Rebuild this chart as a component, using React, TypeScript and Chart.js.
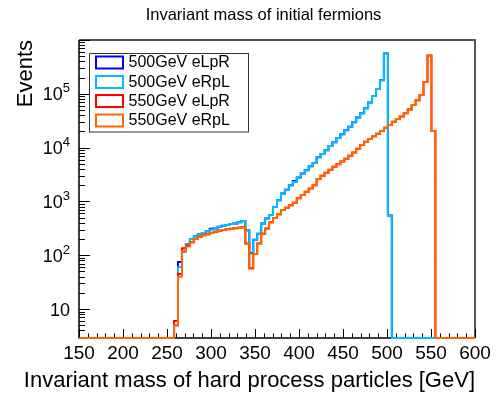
import React, { useEffect, useRef } from "react";
import { Chart, registerables } from "chart.js";
Chart.register(...registerables);

// ---- axis structure ----
const X_MIN = 150;
const X_MAX = 600;
const BIN_WIDTH = 4.5;
const Y_MIN = 2.9;
const Y_MAX = 1.0e6;

const xTickValues = [150, 200, 250, 300, 350, 400, 450, 500, 550, 600];
const xTickLabels = ["150", "200", "250", "300", "350", "400", "450", "500", "550", "600"];
const yTickExponents = [1, 2, 3, 4, 5];

const chartTitle = "Invariant mass of initial fermions";
const xTitle = "Invariant mass of hard process particles [GeV]";
const yTitle = "Events";

const seriesNames = ["500GeV eLpR", "500GeV eRpL", "550GeV eLpR", "550GeV eRpL"];
const seriesColors = ["#0000ff", "#00bfff", "#ff0000", "#ff6600"];

// ---- bin contents (100 bins of 4.5 GeV from 150 to 600) ----
const events500eLpR = [
  0, 0, 0, 0, 0, 0, 0, 0, 0, 0, 0, 0, 0, 0, 0, 0, 0, 0, 0, 0, 0, 0, 0, 0,
  5, 75, 120, 160, 200, 225, 245, 260, 280, 310, 315, 340, 355, 365, 380, 390, 410, 435, 290, 110,
  195, 250, 390, 480, 560, 790, 1050, 1400, 1650, 2000, 2400, 2800, 3300, 3800, 4500, 5200,
  6600, 7600, 8900, 10700, 12600, 15100, 17800, 21000, 24500, 29500, 36300, 43600, 53700, 69000,
  91000, 123000, 178000, 560000, 550,
  0, 0, 0, 0, 0, 0, 0, 0, 0, 0, 0, 0, 0, 0, 0, 0, 0, 0, 0, 0, 0,
];
const events500eRpL = [
  0, 0, 0, 0, 0, 0, 0, 0, 0, 0, 0, 0, 0, 0, 0, 0, 0, 0, 0, 0, 0, 0, 0, 0,
  5, 60, 115, 160, 200, 225, 245, 260, 280, 300, 315, 340, 355, 365, 380, 390, 410, 435, 290, 107,
  195, 250, 390, 480, 560, 790, 1050, 1400, 1650, 2000, 2300, 2800, 3300, 3800, 4500, 5200,
  6600, 7600, 8900, 10700, 12600, 15100, 17800, 21000, 24500, 29500, 36300, 43600, 53700, 69000,
  91000, 123000, 178000, 560000, 550,
  0, 0, 0, 0, 0, 0, 0, 0, 0, 0, 0, 0, 0, 0, 0, 0, 0, 0, 0, 0, 0,
];
const events550eLpR = [
  0, 0, 0, 0, 0, 0, 0, 0, 0, 0, 0, 0, 0, 0, 0, 0, 0, 0, 0, 0, 0, 0, 0, 0,
  6, 45, 135, 150, 175, 200, 220, 235, 245, 260, 272, 285, 295, 303, 312, 318, 325, 330, 165, 58,
  105, 165, 250, 315, 410, 490, 580, 690, 760, 850, 950, 1150, 1320, 1510, 1740, 2000,
  2600, 3000, 3400, 3900, 4400, 4900, 5500, 6200, 7100, 8100, 9500, 11200, 12900, 14500,
  16200, 18200, 20400, 23400, 26300, 30200, 33900, 38000, 43600, 51300, 61700, 75900, 95500,
  166000, 513000, 20400,
  0, 0, 0, 0, 0, 0, 0, 0, 0, 0,
];
const events550eRpL = [
  0, 0, 0, 0, 0, 0, 0, 0, 0, 0, 0, 0, 0, 0, 0, 0, 0, 0, 0, 0, 0, 0, 0, 0,
  5, 40, 120, 145, 175, 200, 220, 235, 245, 260, 272, 285, 295, 303, 312, 318, 325, 330, 165, 56,
  105, 165, 250, 315, 410, 490, 580, 690, 760, 850, 950, 1150, 1320, 1510, 1740, 2000,
  2600, 3000, 3400, 3900, 4400, 4900, 5500, 6200, 7100, 8100, 9500, 11200, 12900, 14500,
  16200, 18200, 20400, 23400, 26300, 30200, 33900, 38000, 43600, 51300, 61700, 75900, 95500,
  166000, 513000, 20400,
  0, 0, 0, 0, 0, 0, 0, 0, 0, 0,
];

const allSeries = [events500eLpR, events500eRpL, events550eLpR, events550eRpL];

function toSteps(counts: number[]) {
  const pts = counts.map((c, i) => ({ x: X_MIN + i * BIN_WIDTH, y: c > 0 ? c : Y_MIN }));
  const last = counts[counts.length - 1];
  pts.push({ x: X_MAX, y: last > 0 ? last : Y_MIN });
  return pts;
}

const FONT = '"Liberation Sans", Arial, Helvetica, sans-serif';

const rootPlugin = {
  id: "rootStyle",
  beforeDatasetsDraw(chart: any) {
    const { ctx, chartArea: a, scales } = chart;
    const xs = scales.x;
    const ys = scales.y;
    ctx.save();
    // top & right frame
    ctx.strokeStyle = "#555555";
    ctx.lineWidth = 2;
    ctx.beginPath();
    ctx.moveTo(a.left, a.top);
    ctx.lineTo(a.right, a.top);
    ctx.lineTo(a.right, a.bottom);
    ctx.stroke();
    // axes
    ctx.strokeStyle = "#000000";
    ctx.lineWidth = 1.5;
    ctx.beginPath();
    ctx.moveTo(a.left, a.top);
    ctx.lineTo(a.left, a.bottom);
    ctx.lineTo(a.right, a.bottom);
    ctx.stroke();
    // y ticks (log)
    ctx.lineWidth = 1;
    ctx.beginPath();
    for (let e = 0; e <= 6; e++) {
      for (let m = 1; m <= 9; m++) {
        const v = m * Math.pow(10, e);
        if (v < Y_MIN || v > Y_MAX) continue;
        const y = Math.round(ys.getPixelForValue(v)) + 0.5;
        const len = m === 1 ? 11 : 6;
        ctx.moveTo(a.left, y);
        ctx.lineTo(a.left + len, y);
      }
    }
    // x ticks
    for (let v = X_MIN; v <= X_MAX; v += 10) {
      const x = Math.round(xs.getPixelForValue(v)) + 0.5;
      const len = (v - X_MIN) % 50 === 0 ? 9 : 4.5;
      ctx.moveTo(x, a.bottom);
      ctx.lineTo(x, a.bottom - len);
    }
    ctx.stroke();
    ctx.restore();
  },
  afterDraw(chart: any) {
    const { ctx, chartArea: a, scales } = chart;
    const xs = scales.x;
    const ys = scales.y;
    ctx.save();
    ctx.fillStyle = "#000000";
    // title
    ctx.font = `16.5px ${FONT}`;
    ctx.textAlign = "center";
    ctx.textBaseline = "middle";
    ctx.fillText(chartTitle, 263.5, 15);
    // x tick labels
    ctx.font = `19px ${FONT}`;
    ctx.textAlign = "center";
    ctx.textBaseline = "middle";
    xTickValues.forEach((v, i) => {
      ctx.fillText(xTickLabels[i], xs.getPixelForValue(v), 354);
    });
    // y tick labels
    const xr = 70;
    yTickExponents.forEach((e) => {
      const y = ys.getPixelForValue(Math.pow(10, e));
      ctx.textBaseline = "middle";
      ctx.textAlign = "left";
      if (e === 1) {
        ctx.font = `18px ${FONT}`;
        const w = ctx.measureText("10").width;
        ctx.fillText("10", xr - w, y + 1.5);
      } else {
        ctx.font = `13px ${FONT}`;
        const ws = ctx.measureText(String(e)).width;
        ctx.font = `18px ${FONT}`;
        const wb = ctx.measureText("10").width;
        ctx.fillText("10", xr - ws - wb, y + 1.5);
        ctx.font = `13px ${FONT}`;
        ctx.fillText(String(e), xr - ws, y - 5);
      }
    });
    // axis titles
    ctx.font = `22px ${FONT}`;
    ctx.textAlign = "right";
    ctx.textBaseline = "middle";
    ctx.fillText(xTitle, a.right, 381);
    ctx.save();
    ctx.translate(26, a.top);
    ctx.rotate(-Math.PI / 2);
    ctx.textAlign = "right";
    ctx.fillText(yTitle, 0, 0);
    ctx.restore();
    // legend
    const lx0 = 89, ly0 = 53, lx1 = 248, ly1 = 131.5;
    ctx.fillStyle = "#ffffff";
    ctx.fillRect(lx0, ly0, lx1 - lx0, ly1 - ly0);
    ctx.strokeStyle = "#333333";
    ctx.lineWidth = 1;
    ctx.strokeRect(lx0 + 0.5, ly0 + 0.5, lx1 - lx0, ly1 - ly0);
    const rowY = [62.5, 82, 101, 120.5];
    seriesNames.forEach((name, i) => {
      ctx.strokeStyle = seriesColors[i];
      ctx.lineWidth = 2;
      ctx.strokeRect(96, rowY[i] - 6, 27, 12);
      ctx.fillStyle = "#000000";
      ctx.font = `16px ${FONT}`;
      ctx.textAlign = "left";
      ctx.textBaseline = "middle";
      ctx.fillText(name, 128.5, rowY[i] + 0.5);
    });
    ctx.restore();
  },
};

export default function App() {
  const ref = useRef<HTMLCanvasElement | null>(null);
  useEffect(() => {
    if (!ref.current) return;
    const order = [3, 2, 1, 0];
    const chart = new Chart(ref.current, {
      type: "line",
      data: {
        datasets: allSeries.map((s, i) => ({
          label: seriesNames[i],
          data: toSteps(s),
          borderColor: seriesColors[i],
          backgroundColor: seriesColors[i],
          borderWidth: 2,
          pointRadius: 0,
          stepped: true,
          fill: false,
          tension: 0,
          borderJoinStyle: "miter",
          order: order[i],
          clip: false,
        })) as any,
      },
      options: {
        responsive: false,
        animation: false,
        devicePixelRatio: 1,
        parsing: false as any,
        layout: { padding: { left: 79, right: 21, top: 40, bottom: 57 } },
        scales: {
          x: { type: "linear", min: X_MIN, max: X_MAX, display: false },
          y: { type: "logarithmic", min: Y_MIN, max: Y_MAX, display: false },
        },
        plugins: { legend: { display: false }, title: { display: false }, tooltip: { enabled: false } },
        events: [],
      },
      plugins: [rootPlugin],
    });
    return () => chart.destroy();
  }, []);
  return (
    <div style={{ position: "absolute", left: 0, top: 0, width: 496, height: 395, background: "#fff" }}>
      <canvas ref={ref} width={496} height={395} />
    </div>
  );
}
